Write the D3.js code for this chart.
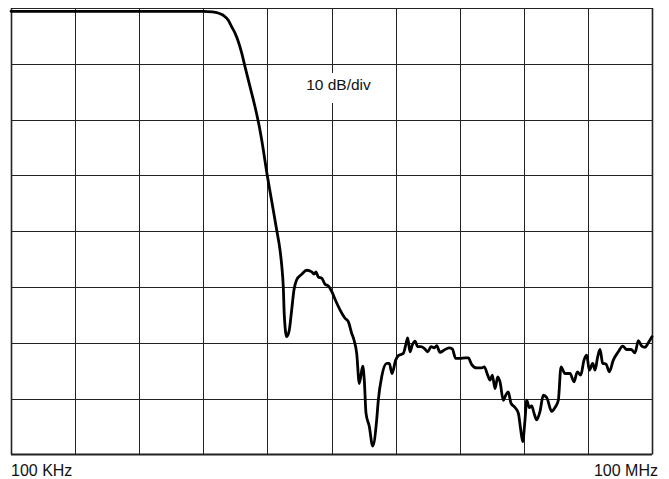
<!DOCTYPE html>
<html>
<head>
<meta charset="utf-8">
<script src="https://cdn.jsdelivr.net/npm/d3@7"></script>
<style>
  html, body { margin: 0; padding: 0; background: #fff; }
  svg { display: block; }
  text { font-family: "Liberation Sans", Arial, sans-serif; fill: #111; }
</style>
</head>
<body>
<script>
// frequency in kHz, response in dB
const freqKHz = [
  100, 199, 397, 792, 872, 931, 985, 1040, 1079, 1118,
  1158, 1202, 1245, 1314, 1387, 1453, 1512, 1573, 1657, 1752,
  1816, 1849, 1881, 1901, 1951, 2007, 2059, 2111, 2173, 2294,
  2421, 2555, 2619, 2676, 2743, 2846, 2949, 3055, 3169, 3320,
  3466, 3658, 3790, 3931, 4030, 4149, 4267, 4426, 4503, 4586,
  4752, 4929, 5146, 5236, 5431, 5732, 5896, 6069, 6317, 6496,
  6855, 7035, 7188, 7369, 7554, 7777, 8006, 8297, 8597, 8918,
  9241, 9574, 9824, 10180, 10660, 11220, 11620, 12060, 12630, 13330,
  13810, 14330, 15120, 15960, 16410, 17020, 17450, 17890, 18420, 18960,
  19440, 20140, 20670, 21250, 21880, 22850, 23680, 24300, 24830, 25450,
  25920, 26650, 27350, 28040, 28860, 29910, 30990, 32150, 33940, 35160,
  36440, 37520, 39160, 41330, 43150, 44720, 46380, 48060, 49490, 50890,
  52790, 54110, 55700, 57100, 58790, 60920, 63120, 65900, 69560, 72940,
  76150, 79760, 83270, 86290, 89510, 92750, 96100, 100000
];
const levelDb = [
  -0.6, -0.6, -0.6, -0.6, -0.7, -0.9, -1.3, -2.2, -3.4, -4.5,
  -6.0, -8.1, -10.5, -14.1, -17.7, -21.3, -25.1, -29.4, -34.4, -39.8,
  -43.4, -46.1, -50.0, -55.0, -58.9, -57.7, -54.1, -50.5, -48.7, -47.7,
  -47.0, -47.3, -47.7, -47.3, -48.2, -48.4, -49.5, -49.8, -50.8, -52.6,
  -54.1, -55.6, -56.2, -58.3, -59.5, -61.9, -67.3, -64.2, -66.7, -72.6,
  -75.0, -78.5, -73.8, -70.3, -66.1, -63.7, -63.7, -65.5, -63.1, -62.3,
  -61.9, -60.4, -59.1, -61.6, -60.4, -59.7, -60.7, -60.7, -61.0, -61.6,
  -60.7, -60.9, -60.5, -61.7, -61.3, -60.9, -61.1, -62.8, -62.8, -62.7,
  -62.7, -63.9, -64.5, -64.5, -64.3, -65.8, -66.7, -65.8, -68.2, -66.1,
  -67.0, -70.3, -69.4, -68.8, -70.8, -71.6, -72.6, -75.6, -77.7, -73.8,
  -70.3, -71.6, -71.3, -72.6, -73.8, -72.3, -69.4, -69.8, -72.3, -71.6,
  -70.3, -64.3, -65.5, -65.5, -67.0, -65.2, -65.8, -63.1, -62.2, -64.9,
  -63.7, -64.9, -62.5, -61.2, -63.7, -63.8, -65.2, -63.1, -61.6, -60.6,
  -61.2, -61.2, -61.8, -59.6, -60.6, -60.8, -60.0, -58.9
];

// axis: 10 divisions over 3 decades, 8 divisions of 10 dB
const xDivisions = d3.range(0, 11);
const yTicksDb = [0, -10, -20, -30, -40, -50, -60, -70, -80];
const startLabel = '100 KHz';
const endLabel = '100 MHz';
const scaleLabel = '10 dB/div';

const width = 669, height = 479;
const margin = { top: 8, right: 17, bottom: 24.6, left: 11 };

const svg = d3.select('body').append('svg')
  .attr('width', width)
  .attr('height', height);

const x = d3.scaleLog()
  .domain([100, 100000])
  .range([margin.left, width - margin.right]);
const y = d3.scaleLinear()
  .domain([-80, 0])
  .range([height - margin.bottom, margin.top]);

const xTickFreqs = xDivisions.map(i => 100 * Math.pow(1000, i / 10));

// grid
const grid = svg.append('g').attr('class', 'grid');
grid.selectAll('line.v')
  .data(xTickFreqs)
  .enter()
  .append('line')
  .attr('class', 'v')
  .attr('x1', d => Math.round(x(d)) + 0.5)
  .attr('x2', d => Math.round(x(d)) + 0.5)
  .attr('y1', y(0))
  .attr('y2', y(-80))
  .style('stroke', '#222')
  .style('stroke-width', (d, i) => (i === 0 || i === 10) ? 1.6 : 1);
grid.selectAll('line.h')
  .data(yTicksDb)
  .enter()
  .append('line')
  .attr('class', 'h')
  .attr('x1', x(100))
  .attr('x2', x(100000))
  .attr('y1', d => Math.round(y(d)) + 0.5)
  .attr('y2', d => Math.round(y(d)) + 0.5)
  .style('stroke', '#222')
  .style('stroke-width', (d, i) => (i === 8) ? 1.8 : 1);

// scale annotation with white box over the grid
const note = svg.append('g').attr('transform', `translate(${x(xTickFreqs[5]) + 7}, 90)`);
note.append('rect')
  .attr('x', -38)
  .attr('y', -17)
  .attr('width', 78)
  .attr('height', 30)
  .style('fill', '#fff');
note.append('text')
  .attr('text-anchor', 'middle')
  .style('font-size', '15.5px')
  .text(scaleLabel);

// response curve
const pts = freqKHz.map((f, i) => [f, levelDb[i]]);
const line = d3.line()
  .x(d => x(d[0]))
  .y(d => y(d[1]))
  .curve(d3.curveMonotoneX);
svg.append('path')
  .datum(pts)
  .attr('d', line)
  .style('fill', 'none')
  .style('stroke', '#000')
  .style('stroke-width', 2.8)
  .style('stroke-linejoin', 'round')
  .style('stroke-linecap', 'round');

// end labels
svg.append('text')
  .attr('x', x(100))
  .attr('y', 475.5)
  .style('font-size', '16px')
  .text(startLabel);
svg.append('text')
  .attr('x', 658)
  .attr('y', 475.5)
  .attr('text-anchor', 'end')
  .style('font-size', '16px')
  .text(endLabel);
</script>
</body>
</html>
